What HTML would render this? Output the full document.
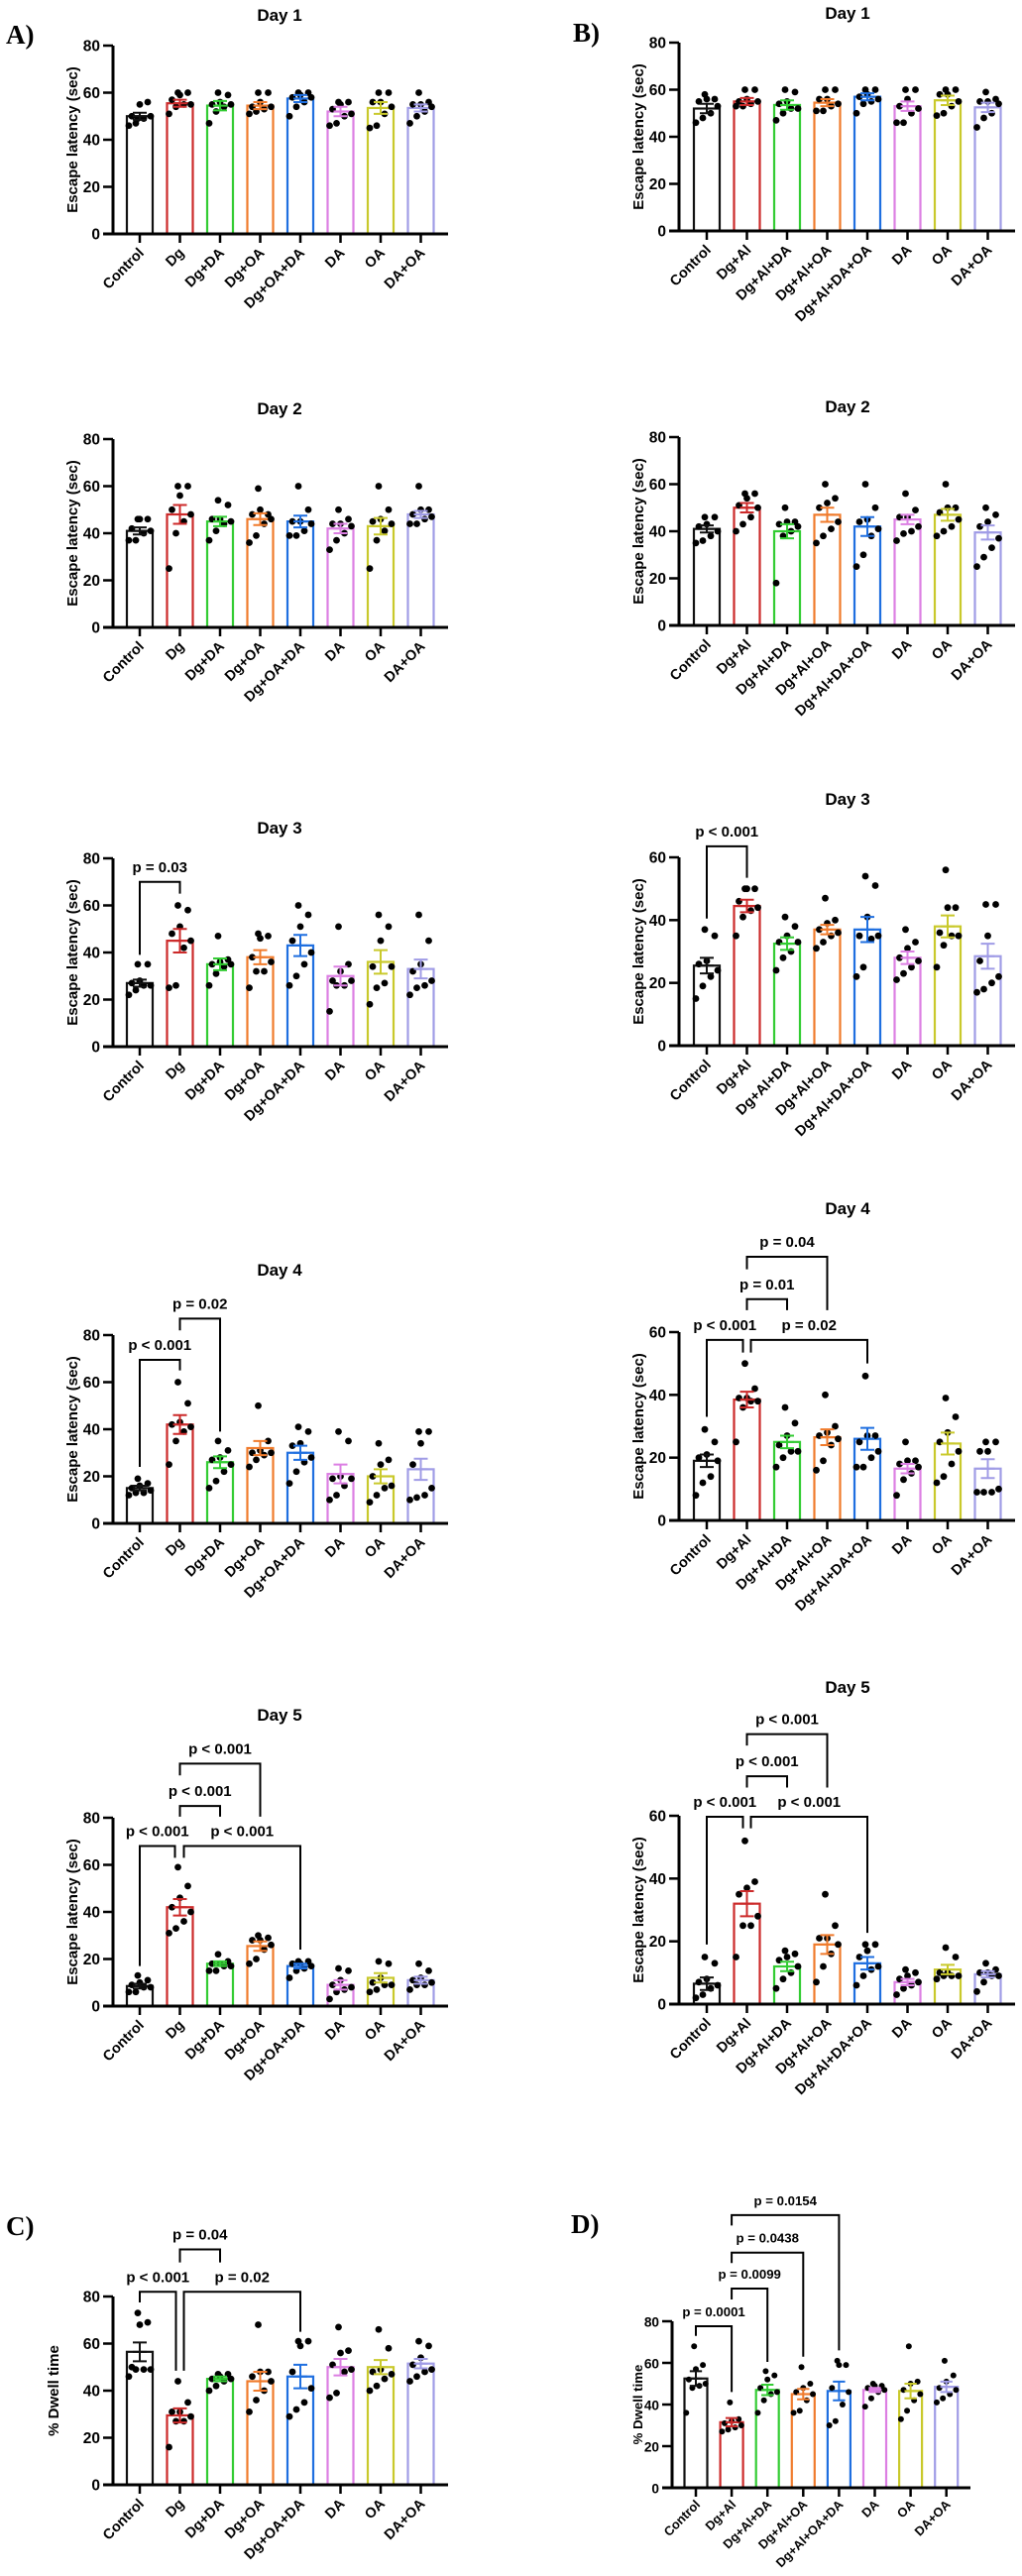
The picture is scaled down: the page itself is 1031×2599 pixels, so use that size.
<!DOCTYPE html>
<html><head><meta charset="utf-8"><style>
html,body{margin:0;padding:0;background:#fff}
svg{display:block}
text{font-family:"Liberation Sans",Arial,sans-serif;font-weight:bold;fill:#000}
.letter{font-family:"Liberation Serif","Times New Roman",serif;font-size:27px}
</style></head><body>
<svg id="fig" width="1031" height="2599" viewBox="0 0 1031 2599" xmlns="http://www.w3.org/2000/svg"></svg>
<script>
// categories
const catsL = ["Control","Dg","Dg+DA","Dg+OA","Dg+OA+DA","DA","OA","DA+OA"];
const catsR = ["Control","Dg+Al","Dg+Al+DA","Dg+Al+OA","Dg+Al+DA+OA","DA","OA","DA+OA"];
const catsD = ["Control","Dg+Al","Dg+Al+DA","Dg+Al+OA","Dg+Al+OA+DA","DA","OA","DA+OA"];
const colors = ["#111111","#cc2a2a","#33cc33","#f07b2c","#1f6fe0","#dc7fe3","#c9c92c","#a09ce6"];
const ticks80 = [0,20,40,60,80];
const ticks60 = [0,20,40,60];

// Panel A day 1
const a1Mean = [50,55.5,54.5,54.5,57.5,52,53.5,53.5];
const a1Sem = [1.5,1.5,2,1.5,1.5,2,2.5,1.5];
const a1Pts = [[46,47,49,50,50,55,56,49],[51,54,55,55,57,59,60,60],[47,52,54,55,55,56,59,60],[51,52,53,54,54,56,60,60],[50,54,56,58,58,59,60,60],[46,47,50,51,53,55,56,56],[45,46,51,54,56,56,60,60],[47,50,52,54,55,55,56,60]];
// Panel A day 2
const a2Mean = [41,48,45,46,45,42,43,48];
const a2Sem = [1.5,4,2,2.5,2.5,2,3.5,1.5];
const a2Pts = [[37,37,40,41,42,46,46,46],[25,40,45,48,50,56,60,60],[37,41,44,45,46,46,52,54],[36,39,44,46,48,50,48,59],[39,39,41,44,45,45,50,60],[33,37,40,43,44,44,46,50],[25,37,41,44,45,46,50,60],[44,44,46,47,48,50,50,60]];
// Panel A day 3
const a3Mean = [27,45,35,38,43,30,36,33];
const a3Sem = [1.5,5,2.5,3,4.5,4,5,4];
const a3Pts = [[22,24,26,26,27,28,35,35],[25,26,42,45,48,51,58,60],[26,31,34,35,35,36,37,47],[25,32,32,36,38,46,47,48],[26,30,35,40,45,51,56,60],[15,26,26,28,28,32,35,51],[18,25,27,34,34,45,51,56],[22,25,26,28,32,35,45,56]];
const a3Br = [[0,1,70,39,65,"p = 0.03",0,0]];
// Panel A day 4
const a4Mean = [15,42,26,32,30,21,20,23];
const a4Sem = [1,4,2.5,3,3,4,3,4.5];
const a4Pts = [[12,13,13,14,15,16,17,19],[25,35,39,41,42,43,51,60],[15,18,22,25,27,28,31,35],[24,27,29,30,30,31,35,50],[17,22,26,28,33,34,39,41],[10,12,16,19,19,20,35,39],[9,12,15,16,20,25,27,34],[10,11,12,15,25,34,39,39]];
const a4Br = [[0,1,69.5,24,65,"p < 0.001",0,0],[1,2,87,82,39,"p = 0.02",0,0]];
// Panel A day 5
const a5Mean = [8.5,42,18,25.5,17,9,12,11];
const a5Sem = [1,3.5,1,2,1,2,2,1.5];
const a5Pts = [[6,6,8,8,9,10,11,13],[31,33,36,40,42,46,51,59],[15,15,17,17,18,18,19,22],[18,20,24,26,28,28,29,30],[12,15,16,17,18,18,19,19],[3,6,7,8,9,11,15,16],[6,7,9,9,10,12,18,19],[7,9,9,10,11,12,15,18]];
const a5Br = [[0,1,68,17,63,"p < 0.001",0,-5],[1,4,68,63,24,"p < 0.001",4,0],[1,2,85,80.5,80.5,"p < 0.001",0,0],[1,3,103,98,80.5,"p < 0.001",0,0]];
// Panel C
const cMean = [56.5,29.5,45,44,46,50,50,51.5];
const cSem = [4,3,1,4,5,3.5,3,2];
const cPts = [[46,49,49,49,50,68,69,73],[16,27,27,29,31,31,35,44],[40,42,44,45,45,46,47,47],[31,36,40,44,46,48,48,68],[29,32,35,41,48,59,61,61],[37,39,48,49,51,56,57,67],[40,42,45,47,48,49,58,66],[44,46,48,49,51,54,59,61]];
const cBr = [[0,1,82,77.5,48.5,"p < 0.001",0,-4],[1,4,82,48.5,65,"p = 0.02",4,0],[1,2,100,94.5,94.5,"p = 0.04",0,0]];
// Panel B day 1
const b1Mean = [52,55,53.5,54.5,57,53,55.5,52.5];
const b1Sem = [2,1.5,2,1.5,1.5,2,2,2];
const b1Pts = [[46,48,50,53,55,56,56,58],[53,53,54,55,55,56,60,60],[47,50,52,52,54,55,59,60],[51,51,53,54,56,56,60,60],[50,54,55,56,57,58,60,60],[46,46,50,52,53,56,60,60],[49,50,53,55,58,58,60,60],[44,48,50,54,55,55,56,59]];
// Panel B day 2
const b2Mean = [41,50,40,47,42,45,47,39.5];
const b2Sem = [1.5,2,3,3,4,2,2.5,3];
const b2Pts = [[35,36,38,40,42,43,46,46],[40,43,46,50,51,54,56,56],[18,38,40,42,43,44,44,50],[35,38,41,44,50,52,54,60],[25,30,38,41,44,45,50,60],[36,39,40,42,46,46,49,56],[38,40,42,45,48,50,50,60],[25,29,33,37,42,44,47,50]];
// Panel B day 3
const b3Mean = [25.5,44.5,32.5,37,37,28,38,28.5];
const b3Sem = [2.5,2,2,1.5,4,2,3.5,4];
const b3Pts = [[15,19,22,24,26,27,35,37],[35,41,43,44,46,50,50,50],[24,28,30,33,33,35,38,41],[31,33,35,36,37,39,40,47],[22,25,34,35,35,41,51,54],[21,23,25,27,28,31,33,37],[25,32,35,35,36,44,44,56],[17,18,20,22,27,35,45,45]];
const b3Br = [[0,1,63.5,40.5,53.5,"p < 0.001",0,0]];
// Panel B day 4
const b4Mean = [19,38.5,25,26.5,26,16.5,24.5,16.5];
const b4Sem = [2,2.5,2,2.5,3.5,1.5,3.5,3];
const b4Pts = [[8,12,14,19,20,21,25,29],[25,36,38,38,39,39,42,50],[17,20,22,22,24,27,31,36],[16,19,24,26,27,28,30,40],[17,17,20,22,25,27,27,46],[8,13,15,17,18,19,19,25],[12,14,18,22,25,28,33,39],[9,9,9,10,22,22,25,25]];
const b4Br = [[0,1,57.5,33,53.5,"p < 0.001",0,-4],[1,4,57.5,53.5,50,"p = 0.02",4,0],[1,2,70.5,67,67,"p = 0.01",0,0],[1,3,84,80,67,"p = 0.04",0,0]];
// Panel B day 5
const b5Mean = [6.5,32,12,19,13,7,11,9.5];
const b5Sem = [2,4,1.5,3,2,1,1.5,1];
const b5Pts = [[2,3,5,6,7,8,13,15],[15,25,25,28,35,37,39,52],[5,8,10,12,14,15,16,17],[7,12,16,19,21,21,25,35],[6,9,11,12,15,17,19,19],[3,5,6,7,8,9,10,11],[8,9,9,9,10,10,15,18],[4,7,9,9,10,10,11,13]];
const b5Br = [[0,1,59.7,19,56,"p < 0.001",0,-4],[1,4,59.7,56,22.7,"p < 0.001",4,0],[1,2,72.6,69,69,"p < 0.001",0,0],[1,3,86,82.4,69,"p < 0.001",0,0]];
// Panel D
const dMean = [52.5,31.5,47,45,46.5,47,46.5,48.5];
const dSem = [3.5,2,2.5,2.5,4.5,1,3.5,2.5];
const dPts = [[36,48,49,50,52,57,59,68],[27,28,29,30,31,32,33,41],[36,42,45,46,48,52,54,56],[36,37,42,45,46,48,50,58],[30,32,40,46,48,59,59,61],[39,43,46,47,48,49,49,50],[33,37,42,45,47,50,51,68],[41,43,45,47,48,51,54,61]];
const dBr = [[0,1,77.6,73,46,"p = 0.0001",0,0],[1,2,95.7,90.5,60.5,"p = 0.0099",0,0],[1,3,113,108,63,"p = 0.0438",0,0],[1,4,131,126,66,"p = 0.0154",0,0]];

const NS = "http://www.w3.org/2000/svg";
const svg = document.getElementById("fig");
function mk(tag, attrs, parent){
  const e = document.createElementNS(NS, tag);
  for (const k in attrs) e.setAttribute(k, attrs[k]);
  (parent||svg).appendChild(e);
  return e;
}
const jit = [-11,-4,4,11,-8,0,8,-2];

function panel(cfg){
  const g = mk("g", {});
  
  
  const yS = v => cfg.y0 - v * cfg.h / cfg.ymax;
  const xS = i => cfg.x0 + cfg.first + i * cfg.step;
  const fs = cfg.fs || 1;
  if (cfg.title){
    const t = mk("text", {x: cfg.tx, y: cfg.ty, "text-anchor":"middle", "font-size": 17});
    t.textContent = cfg.title;
    
    
    g.appendChild(t);
  }
  cfg.means.forEach((m, i) => {
    const cx = xS(i), bw = cfg.bw;
    const r = mk("rect", {x: cx - bw/2, y: yS(m), width: bw, height: cfg.y0 - yS(m), fill: "none", stroke: colors[i], "stroke-width": 2.2}, g);
    
    
  });
  cfg.pts.forEach((arr, i) => {
    arr.forEach((v, k) => {
      const c = mk("circle", {cx: xS(i) + jit[k] * cfg.bw / 26, cy: yS(v), r: 3.4 * fs, fill: "#000"}, g);
      
      
    });
  });
  cfg.means.forEach((m, i) => {
    const cx = xS(i), s = cfg.sem[i], cw = 7 * fs;
    const e = mk("path", {d: `M${cx},${yS(m-s)}V${yS(m+s)}M${cx-cw},${yS(m+s)}H${cx+cw}M${cx-cw},${yS(m-s)}H${cx+cw}M${cx-cw},${yS(m)}H${cx+cw}`, stroke: colors[i], "stroke-width": 2, fill: "none"}, g);
    
    
  });
  const ax = mk("path", {d: `M${cfg.x0},${yS(cfg.ymax)}V${cfg.y0}M${cfg.x0-10},${cfg.y0}H${cfg.xend}`, stroke: "#000", "stroke-width": 3, fill: "none"}, g);
  
  
  cfg.ticks.forEach(t => {
    mk("line", {x1: cfg.x0 - 10, x2: cfg.x0, y1: yS(t), y2: yS(t), stroke: "#000", "stroke-width": 2.5}, g);
    const tl = mk("text", {x: cfg.x0 - 13, y: yS(t) + 5.5, "text-anchor": "end", "font-size": 15.5 * fs}, g);
    tl.textContent = t;
    
    
  });
  cfg.cats.forEach((c, i) => {
    const cx = xS(i);
    mk("line", {x1: cx, x2: cx, y1: cfg.y0, y2: cfg.y0 + 9, stroke: "#000", "stroke-width": 2.5}, g);
    const lx = cx + 5, ly = cfg.y0 + 20 * fs;
    const tl = mk("text", {x: lx, y: ly, "text-anchor": "end", "font-size": 14.5 * fs, transform: `rotate(-45 ${lx} ${ly})`}, g);
    tl.textContent = c;
    
    
  });
  const ym = (cfg.y0 + yS(cfg.ymax)) / 2;
  const yt = mk("text", {x: cfg.ytx, y: ym, "text-anchor": "middle", "font-size": 15 * fs, transform: `rotate(-90 ${cfg.ytx} ${ym})`, dy: 5}, g);
  yt.textContent = cfg.ylabel;
  
  
  (cfg.br || []).forEach(b => {
    const xa = xS(b[0]) + b[6], xb = xS(b[1]) + b[7];
    const p = mk("path", {d: `M${xa},${yS(b[3])}V${yS(b[2])}H${xb}V${yS(b[4])}`, stroke: "#000", "stroke-width": 2, fill: "none"}, g);
    
    
    const t = mk("text", {x: (xa + xb) / 2, y: yS(b[2]) - 10, "text-anchor": "middle", "font-size": 15 * fs}, g);
    t.textContent = b[5];
    
    
  });
}

const L = {x0:114, first:27, step:40.5, bw:26, xend:452, ytx:73, cats:catsL, tx:282};
const R = {x0:685, first:28, step:40.5, bw:26, xend:1024, ytx:644, cats:catsR, tx:855};
const EL = "Escape latency (sec)";
panel(Object.assign({}, L, {name:"panel-a-day1", title:"Day 1", ty:21, y0:236, h:190, ymax:80, ticks:ticks80, ylabel:EL, means:a1Mean, sem:a1Sem, pts:a1Pts}));
panel(Object.assign({}, L, {name:"panel-a-day2", title:"Day 2", ty:418, y0:633, h:190, ymax:80, ticks:ticks80, ylabel:EL, means:a2Mean, sem:a2Sem, pts:a2Pts}));
panel(Object.assign({}, L, {name:"panel-a-day3", title:"Day 3", ty:841, y0:1056, h:190, ymax:80, ticks:ticks80, ylabel:EL, means:a3Mean, sem:a3Sem, pts:a3Pts, br:a3Br}));
panel(Object.assign({}, L, {name:"panel-a-day4", title:"Day 4", ty:1287, y0:1537, h:190, ymax:80, ticks:ticks80, ylabel:EL, means:a4Mean, sem:a4Sem, pts:a4Pts, br:a4Br}));
panel(Object.assign({}, L, {name:"panel-a-day5", title:"Day 5", ty:1736, y0:2024, h:190, ymax:80, ticks:ticks80, ylabel:EL, means:a5Mean, sem:a5Sem, pts:a5Pts, br:a5Br}));
panel(Object.assign({}, L, {name:"panel-c-dwell", y0:2507, h:190, ymax:80, ticks:ticks80, ytx:54, ylabel:"% Dwell time", means:cMean, sem:cSem, pts:cPts, br:cBr}));
panel(Object.assign({}, R, {name:"panel-b-day1", title:"Day 1", ty:19, y0:233, h:190, ymax:80, ticks:ticks80, ylabel:EL, means:b1Mean, sem:b1Sem, pts:b1Pts}));
panel(Object.assign({}, R, {name:"panel-b-day2", title:"Day 2", ty:416, y0:631, h:190, ymax:80, ticks:ticks80, ylabel:EL, means:b2Mean, sem:b2Sem, pts:b2Pts}));
panel(Object.assign({}, R, {name:"panel-b-day3", title:"Day 3", ty:812, y0:1055, h:190, ymax:60, ticks:ticks60, ylabel:EL, means:b3Mean, sem:b3Sem, pts:b3Pts, br:b3Br}));
panel(Object.assign({}, R, {name:"panel-b-day4", title:"Day 4", ty:1225, y0:1534, h:190, ymax:60, ticks:ticks60, ylabel:EL, means:b4Mean, sem:b4Sem, pts:b4Pts, br:b4Br}));
panel(Object.assign({}, R, {name:"panel-b-day5", title:"Day 5", ty:1708, y0:2022, h:190, ymax:60, ticks:ticks60, ylabel:EL, means:b5Mean, sem:b5Sem, pts:b5Pts, br:b5Br}));
panel({name:"panel-d-dwell", x0:678, first:24, step:36.1, bw:23, xend:979, ytx:643, cats:catsD, fs:0.88, y0:2510, h:168, ymax:80, ticks:ticks80, ylabel:"% Dwell time", means:dMean, sem:dSem, pts:dPts, br:dBr});

[["A)",6,44],["B)",578,42],["C)",6,2255],["D)",576,2253]].forEach(l => {
  const t = mk("text", {x: l[1], y: l[2], class: "letter"});
  t.textContent = l[0];
  
  
});
</script>
</body></html>
